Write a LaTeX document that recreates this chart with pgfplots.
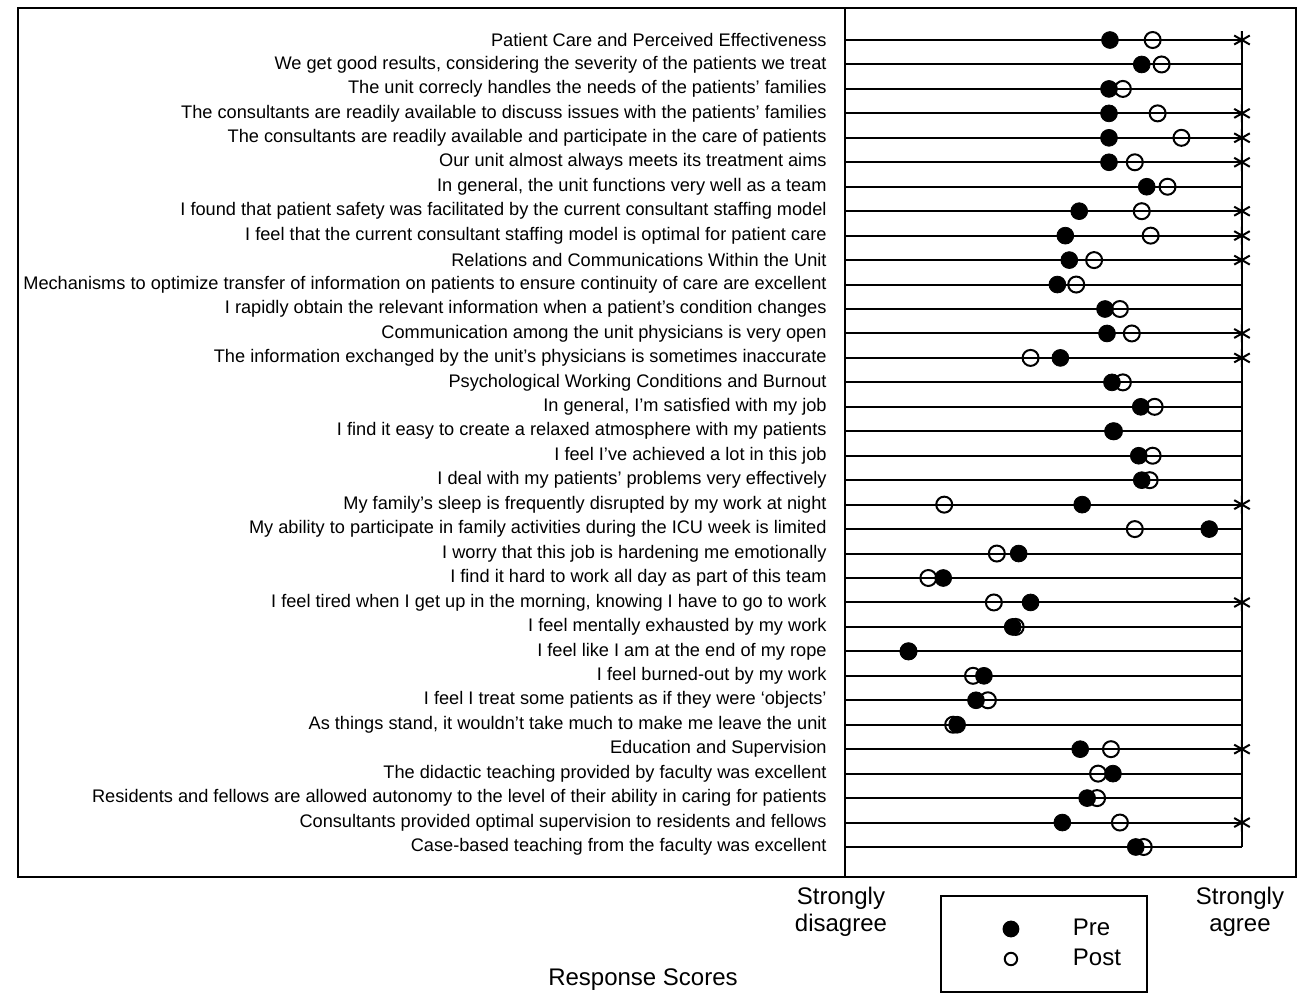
\documentclass[border=0pt]{standalone}
\usepackage{fontspec}
\setmainfont{Liberation Sans}
\usepackage{pgfplots}
\usepackage{pgfplotstable}
\pgfplotsset{compat=1.18}
\pgfplotsset{
  prelegend/.style={legend image code/.code={\path[draw=none] (0pt,-7.5pt) rectangle (64pt,7.5pt); \fill[black] (35pt,0pt) circle (3.7pt);}},
  postlegend/.style={legend image code/.code={\path[draw=none] (0pt,-7.5pt) rectangle (64pt,7.5pt); \draw[black, line width=1pt] (35pt,0pt) circle (3.1pt);}}
}

\pgfplotstableread{
row pre post
1 3.67 4.10
2 3.99 4.19
3 3.66 3.80
4 3.66 4.15
5 3.66 4.39
6 3.66 3.92
7 4.04 4.25
8 3.36 3.99
9 3.22 4.08
10 3.26 3.51
11 3.14 3.33
12 3.62 3.77
13 3.64 3.89
14 3.17 2.87
15 3.69 3.80
16 3.98 4.12
17 3.70 3.71
18 3.96 4.10
19 3.99 4.07
20 3.39 2.00
21 4.67 3.92
22 2.75 2.53
23 1.99 1.84
24 2.87 2.50
25 2.69 2.72
26 1.64 1.64
27 2.40 2.29
28 2.32 2.44
29 2.13 2.09
30 3.37 3.68
31 3.70 3.55
32 3.44 3.54
33 3.19 3.77
34 3.93 4.01
}\scores

\pgfplotstableread{
row x
1 5
4 5
5 5
6 5
8 5
9 5
10 5
13 5
14 5
20 5
24 5
30 5
33 5
}\stars

\begin{document}
\begin{tikzpicture}
\useasboundingbox (-422.5pt,-58.5pt) rectangle (226.5pt,438.5pt);
\begin{axis}[
  at={(0pt,0pt)}, anchor=south west,
  scale only axis, width=225.5pt, height=434.5pt,
  xmin=1, xmax=5.544, ymin=-0.309, ymax=35.227, y dir=reverse,
  xtick=\empty, ytick={1,...,34},
  yticklabels={
    {Patient Care and Perceived Effectiveness},
    {We get good results, considering the severity of the patients we treat},
    {The unit correcly handles the needs of the patients' families},
    {The consultants are readily available to discuss issues with the patients' families},
    {The consultants are readily available and participate in the care of patients},
    {Our unit almost always meets its treatment aims},
    {In general, the unit functions very well as a team},
    {I found that patient safety was facilitated by the current consultant staffing model},
    {I feel that the current consultant staffing model is optimal for patient care},
    {Relations and Communications Within the Unit},
    {Mechanisms to optimize transfer of information on patients to ensure continuity of care are excellent},
    {I rapidly obtain the relevant information when a patient's condition changes},
    {Communication among the unit physicians is very open},
    {The information exchanged by the unit's physicians is sometimes inaccurate},
    {Psychological Working Conditions and Burnout},
    {In general, I'm satisfied with my job},
    {I find it easy to create a relaxed atmosphere with my patients},
    {I feel I've achieved a lot in this job},
    {I deal with my patients' problems very effectively},
    {My family's sleep is frequently disrupted by my work at night},
    {My ability to participate in family activities during the ICU week is limited},
    {I worry that this job is hardening me emotionally},
    {I find it hard to work all day as part of this team},
    {I feel tired when I get up in the morning, knowing I have to go to work},
    {I feel mentally exhausted by my work},
    {I feel like I am at the end of my rope},
    {I feel burned-out by my work},
    {I feel I treat some patients as if they were `objects'},
    {As things stand, it wouldn't take much to make me leave the unit},
    {Education and Supervision},
    {The didactic teaching provided by faculty was excellent},
    {Residents and fellows are allowed autonomy to the level of their ability in caring for patients},
    {Consultants provided optimal supervision to residents and fellows},
    {Case-based teaching from the faculty was excellent}
  },
  major tick length=0pt,
  yticklabel style={font=\fontsize{9.1}{10}\selectfont, anchor=east, inner xsep=0pt, xshift=-9pt},
  axis line style={line width=1pt},
  legend style={at={(axis description cs:0.2106,-0.0207)}, anchor=north west,
    draw=black, line width=1pt, inner xsep=0pt, inner ysep=9pt,
    font=\fontsize{12}{14}\selectfont},
  legend cell align=left,
]
\addplot[xcomb, black, line width=1pt, forget plot] table[x expr=5, y=row] {\scores};
\addplot[black, line width=1pt, forget plot] coordinates {(5,1) (5,34)};
\addplot[only marks, mark=asterisk, mark size=4.5pt, line width=1pt, black, forget plot] table[x=x, y=row] {\stars};
\addplot[only marks, mark=*, mark size=4.2pt, black, forget plot]
  table[x=pre, y=row] {\scores};
\addplot[only marks, mark=o, mark size=4pt, line width=1pt, black, forget plot]
  table[x=post, y=row] {\scores};
\addlegendimage{prelegend}
\addlegendentry{\makebox[35pt][l]{Pre}}
\addlegendimage{postlegend}
\addlegendentry{\makebox[35pt][l]{Post}}
\end{axis}
\draw[line width=1pt] (-413.5pt,0pt) rectangle (225.5pt,434.5pt);
\node[align=center, font=\fontsize{12}{13.5}\selectfont] at (-2pt,-17.25pt) {Strongly\\disagree};
\node[align=center, font=\fontsize{12}{13.5}\selectfont] at (197.5pt,-17.25pt) {Strongly\\agree};
\node[font=\fontsize{12}{14}\selectfont] at (-101pt,-51.5pt) {Response Scores};
\end{tikzpicture}
\end{document}
